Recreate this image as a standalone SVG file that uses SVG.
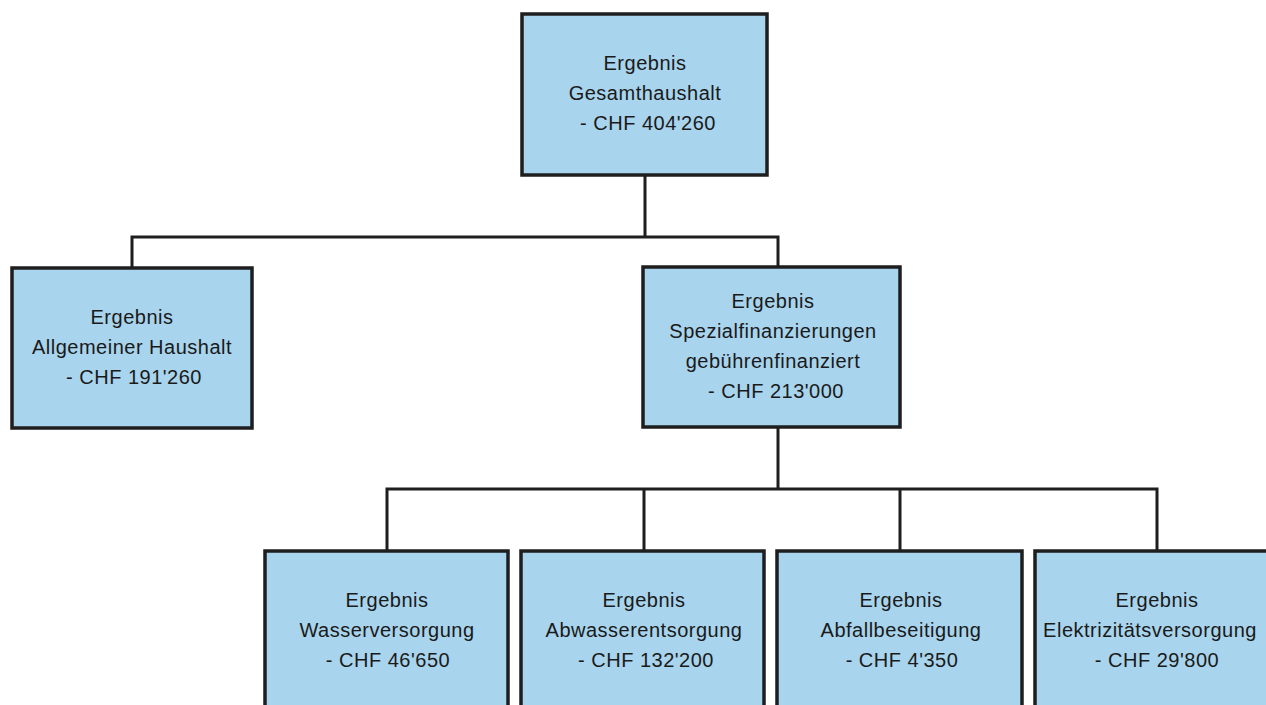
<svg xmlns="http://www.w3.org/2000/svg" width="1266" height="705" viewBox="0 0 1266 705">
<style>
.box{fill:#a8d4ed;stroke:#1e1e1e;stroke-width:3.5}
.lbl{font-family:"Liberation Sans",Arial,sans-serif;font-size:20px;letter-spacing:0.5px;fill:#1a1a1a;text-anchor:middle}
.con{fill:none;stroke:#1e1e1e;stroke-width:3}
</style>
<rect width="1266" height="705" fill="#ffffff"/>
<g id="connectors">
<path class="con" d="M645 175 V237 M132 268 V237 H778 V268"/>
<path class="con" d="M778 427 V489 M387 551 V489 H1157 V551 M644 489 V551 M900 489 V551"/>
</g>
<g id="n-gesamt">
<rect class="box" x="522" y="14" width="245" height="161"/>
<text class="lbl" x="645" y="70">Ergebnis</text>
<text class="lbl" x="645" y="100">Gesamthaushalt</text>
<text class="lbl" x="648" y="130">- CHF 404'260</text>
</g>
<g id="n-allgemein">
<rect class="box" x="12" y="268" width="240" height="160"/>
<text class="lbl" x="132" y="324">Ergebnis</text>
<text class="lbl" x="132" y="354">Allgemeiner Haushalt</text>
<text class="lbl" x="134" y="384">- CHF 191'260</text>
</g>
<g id="n-spezial">
<rect class="box" x="643" y="267" width="257" height="160"/>
<text class="lbl" x="773" y="308">Ergebnis</text>
<text class="lbl" x="773" y="338">Spezialfinanzierungen</text>
<text class="lbl" x="773" y="368">gebührenfinanziert</text>
<text class="lbl" x="776" y="398">- CHF 213'000</text>
</g>
<g id="n-wasser">
<rect class="box" x="265" y="551" width="243" height="170"/>
<text class="lbl" x="387" y="607">Ergebnis</text>
<text class="lbl" x="387" y="637">Wasserversorgung</text>
<text class="lbl" x="388" y="667">- CHF 46'650</text>
</g>
<g id="n-abwasser">
<rect class="box" x="521" y="551" width="243" height="170"/>
<text class="lbl" x="644" y="607">Ergebnis</text>
<text class="lbl" x="644" y="637">Abwasserentsorgung</text>
<text class="lbl" x="646" y="667">- CHF 132'200</text>
</g>
<g id="n-abfall">
<rect class="box" x="777" y="551" width="245" height="170"/>
<text class="lbl" x="901" y="607">Ergebnis</text>
<text class="lbl" x="901" y="637">Abfallbeseitigung</text>
<text class="lbl" x="902" y="667">- CHF 4'350</text>
</g>
<g id="n-elektro">
<rect class="box" x="1035" y="551" width="245" height="170"/>
<text class="lbl" x="1157" y="607">Ergebnis</text>
<text class="lbl" x="1150" y="637">Elektrizitätsversorgung</text>
<text class="lbl" x="1157" y="667">- CHF 29'800</text>
</g>
</svg>
